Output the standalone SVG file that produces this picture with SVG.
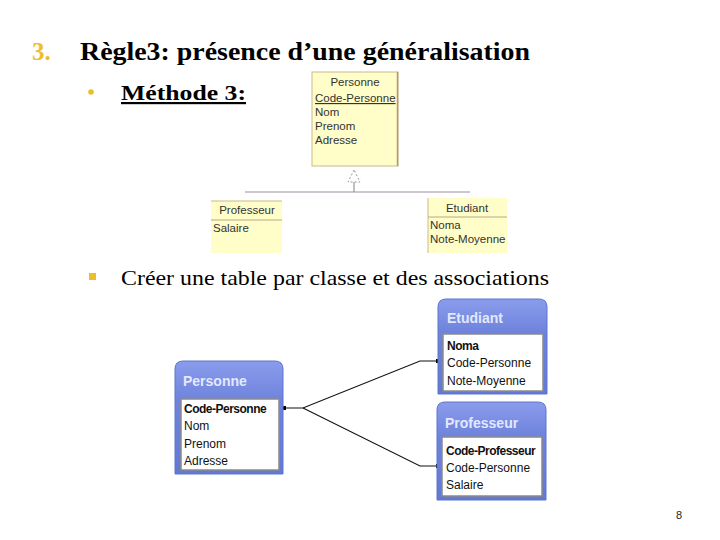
<svg xmlns="http://www.w3.org/2000/svg" width="720" height="540" viewBox="0 0 720 540">
<defs>
<linearGradient id="hdr" x1="0" y1="0" x2="0" y2="1">
<stop offset="0" stop-color="#8a9cec"/>
<stop offset="0.35" stop-color="#6e83dc"/>
<stop offset="1" stop-color="#6279d4"/>
</linearGradient>
<marker id="dot" viewBox="0 0 4 4" refX="2" refY="2" markerWidth="4" markerHeight="4" markerUnits="userSpaceOnUse">
<rect x="0" y="0" width="4" height="4" fill="#000"/>
</marker>
<style>
.uml{fill:#fffdc8;stroke:#cbb98c;stroke-width:1}
.umlt{font-family:"Liberation Sans",Arial,sans-serif;font-size:11.5px;fill:#333}
.gen{stroke:#a08fa0;stroke-width:1.2;fill:none}
.tbl{fill:url(#hdr);stroke:#5f74cc;stroke-width:1}
.panel{fill:#fff;stroke:#8a8a8a;stroke-width:1.5}
.ttl{font-family:"Liberation Sans",Arial,sans-serif;font-size:14px;font-weight:bold;fill:#e2e9ff}
.fld{font-family:"Liberation Sans",Arial,sans-serif;font-size:12px;fill:#111}
.key{font-weight:bold;letter-spacing:-0.5px}
.conn{stroke:#111;stroke-width:1.1;fill:none}
</style>
</defs>
<rect width="720" height="540" fill="#fff"/>

<g id="heading">
<text x="32" y="60" font-family="Liberation Serif,serif" font-size="25" font-weight="bold" fill="#f0bd2a">3.</text>
<text x="80" y="60" font-family="Liberation Serif,serif" font-size="26" font-weight="bold" fill="#000" textLength="450" lengthAdjust="spacingAndGlyphs">Règle3: présence d’une généralisation</text>
<circle cx="91" cy="92" r="2.8" fill="#f0bd2a"/>
<text x="121" y="100" font-family="Liberation Serif,serif" font-size="22" font-weight="bold" fill="#000" text-decoration="underline" textLength="125" lengthAdjust="spacingAndGlyphs">Méthode 3:</text>
<rect x="89" y="273" width="7" height="7" fill="#f0bd2a"/>
<text x="121" y="285" font-family="Liberation Serif,serif" font-size="21" fill="#000" textLength="428" lengthAdjust="spacingAndGlyphs">Créer une table par classe et des associations</text>
<text x="676" y="519" font-family="Liberation Sans,sans-serif" font-size="11" fill="#222">8</text>
</g>

<g id="uml-connectors">
<polygon points="354,170 348,182 360,182" fill="#fff" stroke="#999" stroke-width="1" stroke-dasharray="2,2"/>
<line class="gen" x1="354" y1="182" x2="354" y2="192"/>
<line class="gen" x1="245" y1="192" x2="470" y2="192"/>
</g>

<g id="uml-personne">
<rect class="uml" x="312" y="72" width="86" height="94"/>
<line x1="397.5" y1="72" x2="397.5" y2="166" stroke="#b09a70" stroke-width="1.5"/>
<text class="umlt" x="355" y="86" text-anchor="middle">Personne</text>
<text class="umlt" x="315" y="102" text-decoration="underline">Code-Personne</text>
<text class="umlt" x="315" y="116">Nom</text>
<text class="umlt" x="315" y="130">Prenom</text>
<text class="umlt" x="315" y="144">Adresse</text>
</g>

<g id="uml-professeur">
<rect x="211" y="201" width="71" height="52" fill="#fffdc8"/>
<line x1="211" y1="201" x2="282" y2="201" stroke="#cbb98c"/>
<line x1="211" y1="220" x2="282" y2="220" stroke="#b8a888"/>
<text class="umlt" x="247" y="214" text-anchor="middle" font-size="11">Professeur</text>
<text class="umlt" x="213" y="232" font-size="11">Salaire</text>
</g>

<g id="uml-etudiant">
<rect x="428" y="198" width="79" height="55" fill="#fffdc8"/>
<line x1="428" y1="198" x2="428" y2="253" stroke="#cbb98c"/>
<line x1="428" y1="217" x2="507" y2="217" stroke="#b8a888"/>
<text class="umlt" x="467" y="212" text-anchor="middle" font-size="11">Etudiant</text>
<text class="umlt" x="430" y="229" font-size="11">Noma</text>
<text class="umlt" x="430" y="243" font-size="11">Note-Moyenne</text>
</g>

<g id="connectors">
<polyline class="conn" points="284,408 303,408 420,361 438,361" marker-start="url(#dot)" marker-end="url(#dot)"/>
<polyline class="conn" points="303,408 420,466 438,466" marker-end="url(#dot)"/>
</g>

<g id="tbl-personne">
<path class="tbl" d="M175,474 V369 Q175,361 183,361 H275 Q283,361 283,369 V474 Z"/>
<rect class="panel" x="181" y="399" width="98" height="71"/>
<text class="ttl" x="183" y="386">Personne</text>
<text class="fld key" x="184" y="413">Code-Personne</text>
<text class="fld" x="184" y="430">Nom</text>
<text class="fld" x="184" y="448">Prenom</text>
<text class="fld" x="184" y="465">Adresse</text>
</g>

<g id="tbl-etudiant">
<path class="tbl" d="M438,394 V307 Q438,299 446,299 H539 Q547,299 547,307 V394 Z"/>
<rect class="panel" x="443" y="334" width="100" height="57"/>
<text class="ttl" x="447" y="323">Etudiant</text>
<text class="fld key" x="447" y="350">Noma</text>
<text class="fld" x="447" y="367">Code-Personne</text>
<text class="fld" x="447" y="385">Note-Moyenne</text>
</g>

<g id="tbl-professeur">
<path class="tbl" d="M437,500 V410 Q437,402 445,402 H538 Q546,402 546,410 V500 Z"/>
<rect class="panel" x="442" y="437" width="100" height="59"/>
<text class="ttl" x="445" y="428">Professeur</text>
<text class="fld key" x="446" y="455">Code-Professeur</text>
<text class="fld" x="446" y="472">Code-Personne</text>
<text class="fld" x="446" y="489">Salaire</text>
</g>
</svg>
